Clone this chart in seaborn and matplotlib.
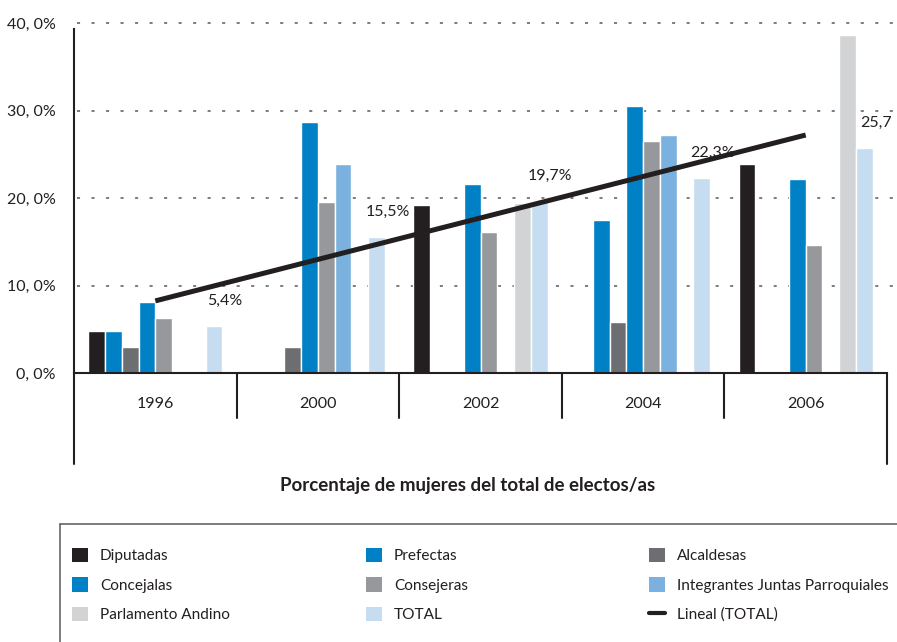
import numpy as np
import pandas as pd
import matplotlib
matplotlib.use("Agg")
import matplotlib.pyplot as plt
import matplotlib.transforms as mtransforms
from matplotlib.lines import Line2D
from matplotlib.patches import Patch
from matplotlib.ticker import FuncFormatter
import seaborn as sns

# --- datos (porcentaje de mujeres electas) ---
anios = ["1996", "2000", "2002", "2004", "2006"]
diputadas = [4.8, np.nan, 19.2, np.nan, 23.9]
prefectas = [4.8, np.nan, np.nan, 17.5, np.nan]
alcaldesas = [3.0, 3.0, np.nan, 5.8, np.nan]
concejalas = [8.1, 28.7, 21.6, 30.5, 22.2]
consejeras = [6.3, 19.5, 16.1, 26.5, 14.6]
integrantes = [np.nan, 23.9, np.nan, 27.2, np.nan]
parlamento = [np.nan, np.nan, 19.4, np.nan, 38.6]
total = [5.4, 15.5, 19.7, 22.3, 25.7]
total_labels = ["5,4%", "15,5%", "19,7%", "22,3%", "25,7"]

series = ["Diputadas", "Prefectas", "Alcaldesas", "Concejalas", "Consejeras",
          "Integrantes Juntas Parroquiales", "Parlamento Andino", "TOTAL"]
valores = [diputadas, prefectas, alcaldesas, concejalas, consejeras,
           integrantes, parlamento, total]
colores = ["#231f20", "#0081c6", "#6d6e71", "#0081c6", "#97989b",
           "#7ab1de", "#d1d3d4", "#c6dcf0"]
INK = "#231f20"
LINE = "#58595b"

rows = []
for s, vals in zip(series, valores):
    for a, v in zip(anios, vals):
        rows.append({"anio": a, "serie": s, "valor": v})
df = pd.DataFrame(rows).dropna()

sns.set_theme(style="white")
plt.rcParams["font.family"] = ["Lato", "DejaVu Sans"]
plt.rcParams["text.color"] = INK

W, H = 897, 642
fig = plt.figure(figsize=(W / 100, H / 100), dpi=100)
ax = fig.add_axes([74 / W, 1 - 373 / H, 813 / W, 350 / H])

sns.barplot(data=df, x="anio", y="valor", hue="serie", order=anios,
            hue_order=series, palette=dict(zip(series, colores)),
            saturation=1, width=0.826, gap=0, errorbar=None,
            legend=False, ax=ax, zorder=2)

ax.set_xlim(-0.5, 4.5)
ax.set_ylim(0, 40)

# gridlines punteadas
ax.hlines([10, 20, 30, 40], -0.48, 4.56, colors=LINE, lw=1.1,
          linestyles=(0, (2, 7.5)), clip_on=False, zorder=0.5)

# linea de tendencia (Lineal TOTAL)
xs = np.arange(len(anios))
coef = np.polyfit(xs, total, 1)
xe = np.array([0, len(anios) - 1])
ax.plot(xe, np.polyval(coef, xe), color=INK, lw=3.6,
        solid_capstyle="butt", zorder=5)

# etiquetas del total
bw = 0.826 / len(series)
for i, (v, lab) in enumerate(zip(total, total_labels)):
    xc = i - 0.413 + bw * 7.5
    ax.annotate(lab, (xc, v), xytext=(8, 18), textcoords="offset points",
                ha="center", va="center", fontsize=11.5, color=INK, zorder=4)

# ejes
for sp in ["top", "right"]:
    ax.spines[sp].set_visible(False)
ax.spines["left"].set_bounds(0, 39.3)
ax.spines["left"].set_color(INK)
ax.spines["left"].set_linewidth(1.5)
ax.spines["bottom"].set_color(INK)
ax.spines["bottom"].set_linewidth(1.5)
ax.set_xlabel("")
ax.set_ylabel("")
ax.set_yticks([0, 10, 20, 30, 40])
ax.yaxis.set_major_formatter(FuncFormatter(
    lambda v, p: f"{v:.1f}".replace(".", ", ") + "%"))
ax.tick_params(axis="y", length=0, pad=13, labelsize=11.5, labelcolor=INK)
ax.tick_params(axis="x", length=0, pad=17, labelsize=11.5, labelcolor=INK)

# tabla de años debajo del eje
trans = mtransforms.blended_transform_factory(ax.transData, ax.transAxes)
for xb in [0.5, 1.5, 2.5, 3.5]:
    ax.plot([xb, xb], [0, -45 / 350], transform=trans, color=INK,
            lw=1.5, clip_on=False)
for xb in [-0.5, 4.5]:
    ax.plot([xb, xb], [0, -91 / 350], transform=trans, color=INK,
            lw=1.5, clip_on=False)

fig.text(468 / W, 1 - 485 / H, "Porcentaje de mujeres del total de electos/as",
         ha="center", va="center", fontsize=13.5, fontweight="bold", color=INK)

# recuadro de la leyenda
fig.add_artist(Line2D([60 / W, 1], [1 - 524 / H] * 2, transform=fig.transFigure,
                      color=LINE, lw=1.1))
fig.add_artist(Line2D([60 / W] * 2, [1 - 524 / H, 0], transform=fig.transFigure,
                      color=LINE, lw=1.1))

handles = {s: Patch(facecolor=c, edgecolor="none") for s, c in zip(series, colores)}
handles["Lineal (TOTAL)"] = Line2D([], [], color=INK, lw=3)
columnas = [["Diputadas", "Concejalas", "Parlamento Andino"],
            ["Prefectas", "Consejeras", "TOTAL"],
            ["Alcaldesas", "Integrantes Juntas Parroquiales", "Lineal (TOTAL)"]]
for xcol, nombres in zip([72, 366, 649], columnas):
    leg = fig.legend([handles[n] for n in nombres], nombres, loc="upper left",
                     bbox_to_anchor=(xcol / W, 1 - 548 / H), frameon=False,
                     borderpad=0, borderaxespad=0, handlelength=1.05,
                     handleheight=1.05, handletextpad=0.75, labelspacing=0.9,
                     prop={"size": 11.1})
    for t in leg.get_texts():
        t.set_color(INK)

fig.savefig("out.png", dpi=100)
